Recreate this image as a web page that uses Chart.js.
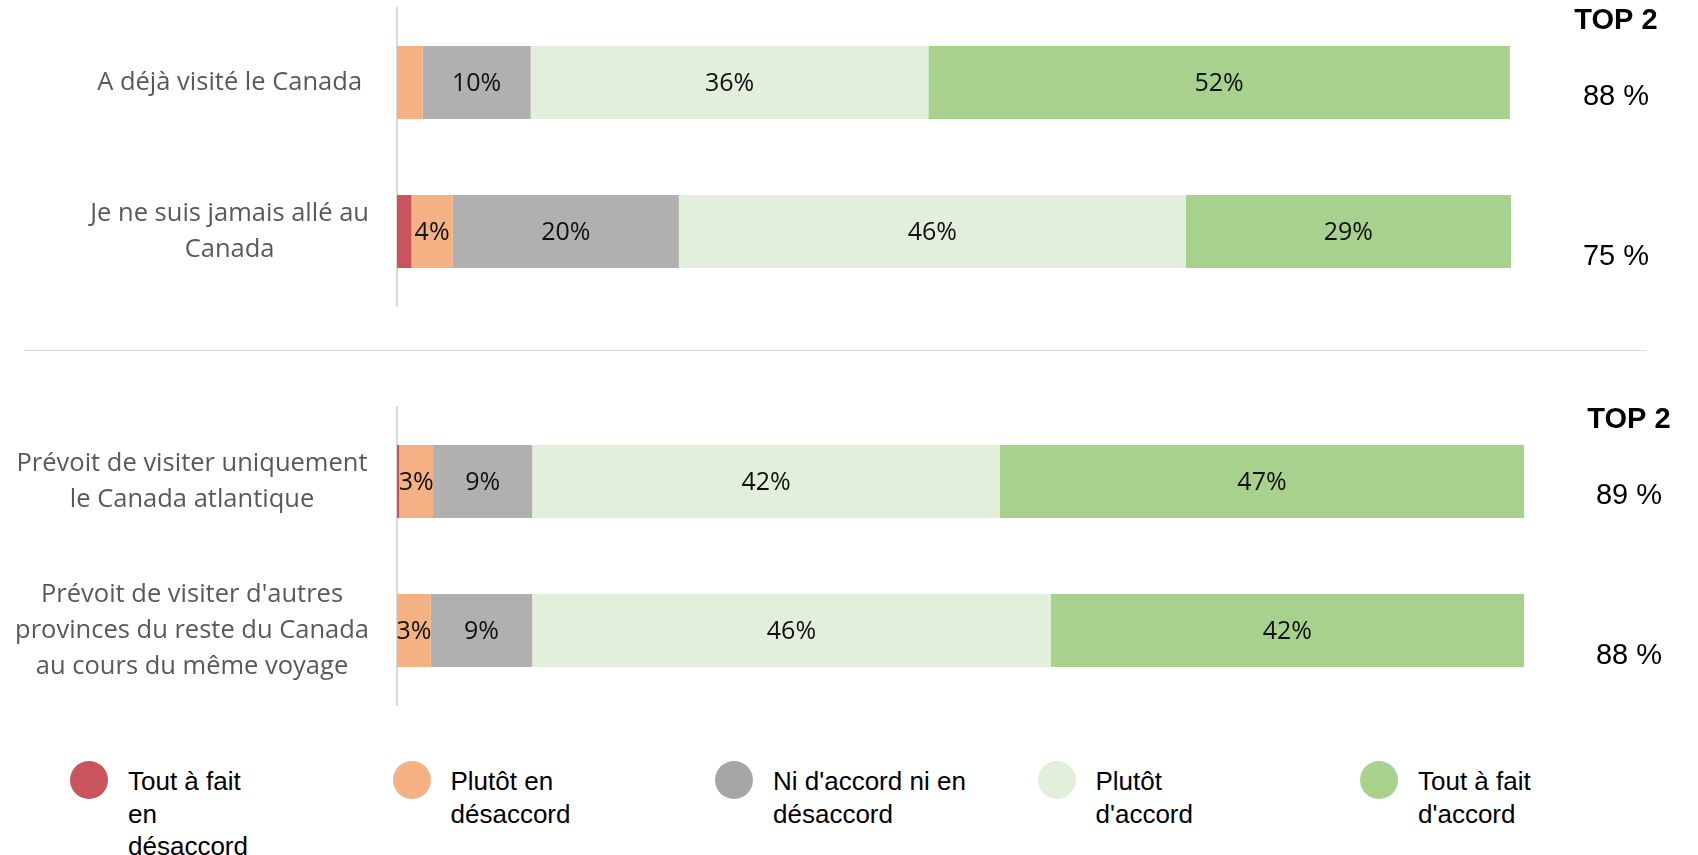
<!DOCTYPE html>
<html>
<head>
<meta charset="utf-8">
<script src="https://cdn.jsdelivr.net/npm/chart.js@4.4.0/dist/chart.umd.min.js"></script>
<style>
	body { margin: 0; background: #fff; width: 1698px; height: 855px; overflow: hidden; position: relative; font-family: "Liberation Sans", Arial, sans-serif; }
	canvas { position: absolute; left: 0; }
	#sep { position: absolute; left: 24px; top: 350px; width: 1622px; height: 1px; background: #D9D9D9; }
	.leg { position: absolute; top: 761px; }
	.dot { position: absolute; left: 0; top: 0; width: 38px; height: 38px; border-radius: 50%; }
	.txt { position: absolute; left: 58px; top: 4px; font-size: 26px; line-height: 32.5px; color: #000; white-space: nowrap; }
</style>
</head>
<body>
<canvas id="top" width="1698" height="320" style="top:0"></canvas>
<div id="sep"></div>
<canvas id="bottom" width="1698" height="320" style="top:399px"></canvas>
<div id="legend"></div>
<script type="text/javascript">
	// series (answer scale)
	let seriesNames = ["Tout à fait en désaccord", "Plutôt en désaccord", "Ni d'accord ni en désaccord", "Plutôt d'accord", "Tout à fait d'accord"]
	let legendLines = [["Tout à fait", "en", "désaccord"], ["Plutôt en", "désaccord"], ["Ni d'accord ni en", "désaccord"], ["Plutôt", "d'accord"], ["Tout à fait", "d'accord"]]
	let barColors = ["#C8555E", "#F4B183", "#B0B0B0", "#E2EFDA", "#A9D18E"]
	let dotColors = ["#C8555E", "#F4B183", "#A6A6A6", "#E2EFDA", "#A9D18E"]

	// top panel
	let topCategories = ["A déjà visité le Canada", ["Je ne suis jamais allé au", "Canada"]]
	let topValues = [
		[0, 1.3],
		[2.3, 3.7],
		[9.7, 20.3],
		[35.7, 45.5],
		[52.2, 29.2],
	]
	let topTop2 = [88, 75]

	// bottom panel
	let bottomCategories = [["Prévoit de visiter uniquement", "le Canada atlantique"], ["Prévoit de visiter d'autres", "provinces du reste du Canada", "au cours du même voyage"]]
	let bottomValues = [
		[0.2, 0],
		[3.0, 3.0],
		[8.8, 9.0],
		[41.5, 46.0],
		[46.5, 42.0],
	]
	let bottomTop2 = [89, 88]

	let top2Header = "TOP 2"
	let top2Offsets = [14, 25]

	let valueLabels = {
		id: "valueLabels",
		afterDatasetsDraw: function(chart) {
			let ctx = chart.ctx
			ctx.save()
			ctx.font = "25px 'Open Sans'"
			ctx.fillStyle = "#111"
			ctx.textAlign = "center"
			ctx.textBaseline = "middle"
			chart.data.datasets.forEach(function(ds, i) {
				chart.getDatasetMeta(i).data.forEach(function(bar, j) {
					let v = Math.round(ds.data[j])
					if(v < 3) {
						return
					}
					ctx.fillText(v + "%", (bar.x + bar.base) / 2, bar.y + 1)
				})
			})
			ctx.restore()
		}
	}

	let top2Labels = {
		id: "top2Labels",
		afterDraw: function(chart, args, opts) {
			let ctx = chart.ctx
			let area = chart.chartArea
			let x = area.right + 105
			ctx.save()
			ctx.fillStyle = "#000"
			ctx.textAlign = "center"
			ctx.textBaseline = "middle"
			ctx.font = "bold 29px 'Liberation Sans', Arial"
			ctx.fillText(top2Header, x, area.top + 13)
			ctx.font = "29px 'Liberation Sans', Arial"
			opts.values.forEach(function(v, i) {
				ctx.fillText(v + " %", x, chart.scales.y.getPixelForValue(i) + top2Offsets[i])
			})
			ctx.restore()
		}
	}

	function makeChart(id, categories, values, top2, rightPad) {
		return new Chart(document.getElementById(id), {
			type: "bar",
			data: {
				labels: categories,
				datasets: values.map(function(row, i) {
					return {
						label: seriesNames[i],
						data: row,
						backgroundColor: barColors[i],
						borderWidth: 0,
						categoryPercentage: 1,
						barPercentage: 0.49,
					}
				}),
			},
			options: {
				indexAxis: "y",
				responsive: false,
				animation: false,
				layout: { padding: { top: 8, bottom: 14, left: 0, right: rightPad } },
				plugins: {
					legend: { display: false },
					tooltip: { enabled: false },
					top2Labels: { values: top2 },
				},
				scales: {
					x: { stacked: true, min: 0, max: 100, display: false },
					y: {
						stacked: true,
						grid: { display: false },
						border: { display: true, color: "#D9D9D9", width: 2 },
						ticks: {
							padding: 20,
							crossAlign: "center",
							color: "#595959",
							font: { family: "'Open Sans'", size: 25.5, lineHeight: 1.42 },
						},
						afterFit: function(scale) {
							scale.width = 397
							scale.paddingTop = 0
							scale.paddingBottom = 0
						},
					},
				},
			},
			plugins: [valueLabels, top2Labels],
		})
	}

	makeChart("top", topCategories, topValues, topTop2, 1698 - 1511)
	makeChart("bottom", bottomCategories, bottomValues, bottomTop2, 1698 - 1524)

	let legend = document.getElementById("legend")
	legendLines.forEach(function(lines, i) {
		let item = document.createElement("div")
		item.className = "leg"
		item.style.left = (70 + i * 322.5) + "px"
		item.innerHTML = `<div class="dot" style="background:${dotColors[i]}"></div><div class="txt">${lines.join("<br>")}</div>`
		legend.appendChild(item)
	})
</script>
</body>
</html>
